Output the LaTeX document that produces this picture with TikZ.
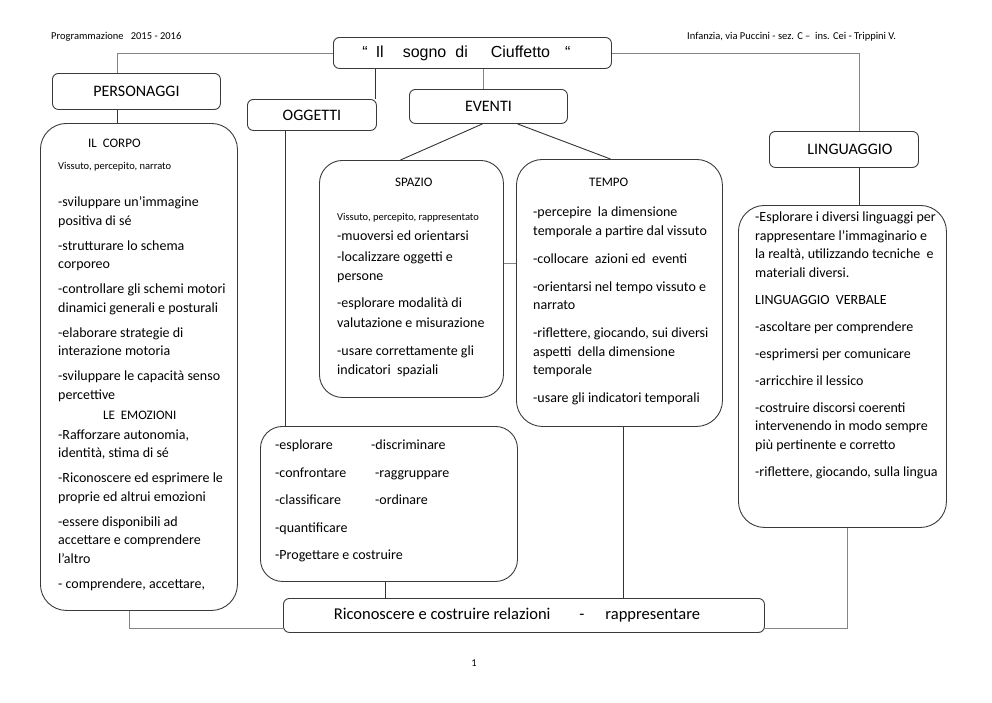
\documentclass[tikz,border=0pt]{standalone}
\usepackage{fontspec}
\setmainfont{Carlito}
\newfontfamily\arialfont{Liberation Sans}
\usetikzlibrary{positioning}

\definecolor{boxgray}{HTML}{3A3A3A}
\definecolor{linkdark}{HTML}{333333}
\definecolor{linksoft}{HTML}{858585}

\newcommand{\headfont}{\fontsize{13}{18.5}\selectfont}
\newcommand{\smallfont}{\fontsize{10.5}{12}\selectfont}

\tikzset{
  labelbox/.style={draw=boxgray, line width=0.9pt, rounded corners=6pt, inner sep=0pt, anchor=north west, font=\fontsize{16}{18}\selectfont},
  panel/.style={draw=boxgray, line width=0.9pt, rounded corners=26pt, inner sep=0pt, anchor=north west},
  body/.style={anchor=north west, inner sep=0pt, align=left, font=\fontsize{14}{18.5}\selectfont},
  link/.style={draw=linkdark, line width=0.9pt},
  softlink/.style={draw=linksoft, line width=0.9pt},
}

\begin{document}
\begin{tikzpicture}[x=1pt, y=-1pt]
    \useasboundingbox (0,0) rectangle (992,702);

    % Header
    \node[anchor=west, inner sep=0pt, font=\smallfont] (prog) at (51,37) {Programmazione\ \ \ 2015 - 2016};
    \node[anchor=west, inner sep=0pt, font=\smallfont] (school) at (687,37) {Infanzia, via Puccini - sez. C –\ \ ins. Cei - Trippini V.};
    \node[labelbox, minimum width=278, minimum height=31, font=\arialfont\fontsize{16}{18}\selectfont] (title) at (333,37)
        {“\hspace{8pt}Il\hspace{19pt}sogno\hspace{9pt}di\hspace{23pt}Ciuffetto\hspace{15pt}“\hspace*{12pt}};

    % Branches
    \node[labelbox, minimum width=168, minimum height=36] (pers) at (52,73) {PERSONAGGI};
    \node[labelbox, minimum width=129, minimum height=31] (ogg) at (247,99) {OGGETTI};
    \node[labelbox, minimum width=158, minimum height=34] (eventi) at (409,89) {EVENTI};
    \node[labelbox, minimum width=149, minimum height=36] (ling) at (769,131) {\hspace*{12pt}LINGUAGGIO};

    % Panels
    \node[panel, minimum width=197, minimum height=487] (corpo) at (40,123) {};
    \node[panel, rounded corners=23pt, minimum width=184, minimum height=237] (spazio) at (319,160) {};
    \node[panel, minimum width=206, minimum height=267] (tempo) at (516,159) {};
    \node[panel, minimum width=208, minimum height=322] (lingbody) at (738,205) {};
    \node[panel, rounded corners=22pt, minimum width=257, minimum height=155] (oggbody) at (260,426) {};
    \node[labelbox, minimum width=481, minimum height=34, font=\fontsize{16.5}{18}\selectfont] (ric) at (283,598)
        {Riconoscere e costruire relazioni\hspace{29pt}-\hspace{21pt}rappresentare\hspace*{14pt}};

    % Panel texts
    \node[body] (corpotxt) at (58,139) {%
        \hspace*{30pt}{\headfont IL~~CORPO}\\[3.5pt]
        {\smallfont Vissuto, percepito, narrato}\\[18.5pt]
        -sviluppare un’immagine\\
        positiva di sé\\[6.5pt]
        -strutturare lo schema\\
        corporeo\\[6.5pt]
        -controllare gli schemi motori\\
        dinamici generali e posturali\\[6.5pt]
        -elaborare strategie di\\
        interazione motoria\\[6.5pt]
        -sviluppare le capacità senso\\
        percettive\\[1.5pt]
        \hspace*{45pt}{\headfont LE~~EMOZIONI}\\[1.5pt]
        -Rafforzare autonomia,\\
        identità, stima di sé\\[6.5pt]
        -Riconoscere ed esprimere le\\
        proprie ed altrui emozioni\\[6.5pt]
        -essere disponibili ad\\
        accettare e comprendere\\
        l’altro\\[6.5pt]
        - comprendere, accettare,};
    \node[body, font=\fontsize{14}{19.5}\selectfont] (spaziotxt) at (337,178) {%
        \hspace*{58pt}{\headfont SPAZIO}\\[14.5pt]
        {\smallfont Vissuto, percepito, rappresentato}\\
        -muoversi ed orientarsi\\[1.5pt]
        -localizzare oggetti e\\
        persone\\[7.5pt]
        -esplorare modalità di\\
        valutazione e misurazione\\[8.5pt]
        -usare correttamente gli\\
        indicatori~ spaziali};
    \node[body] (tempotxt) at (533,178) {%
        \hspace*{56pt}{\headfont TEMPO}\\[11.5pt]
        -percepire~ la dimensione\\
        temporale a partire dal vissuto\\[9.5pt]
        -collocare~ azioni ed~ eventi\\[9.5pt]
        -orientarsi nel tempo vissuto e\\
        narrato\\[9.5pt]
        -riflettere, giocando, sui diversi\\
        aspetti~ della dimensione\\
        temporale\\[9.5pt]
        -usare gli indicatori temporali};
    \node[body] (lingtxt) at (755,212) {%
        -Esplorare i diversi linguaggi per\\
        rappresentare l’immaginario e\\
        la realtà, utilizzando tecniche~ e\\
        materiali diversi.\\[8.5pt]
        LINGUAGGIO~ VERBALE\\[8.5pt]
        -ascoltare per comprendere\\[8.5pt]
        -esprimersi per comunicare\\[8.5pt]
        -arricchire il lessico\\[8.5pt]
        -costruire discorsi coerenti\\
        intervenendo in modo sempre\\
        più pertinente e corretto\\[8.5pt]
        -riflettere, giocando, sulla lingua};
    \node[body] (oggtxt) at (275,440) {%
        -esplorare\\[9pt]
        -confrontare\\[9pt]
        -classificare\\[9pt]
        -quantificare\\[9pt]
        -Progettare e costruire};
    \node[body] (oggtxtb) at (371,440) {%
        -discriminare\\[9pt]
        \hspace*{4pt}-raggruppare\\[9pt]
        \hspace*{4pt}-ordinare};

    % Connections
    \draw[softlink] (title.west) -| ([xshift=-19]pers.north);
    \draw[link] ([xshift=-1]ogg.north east |- title.south) -- ([xshift=-1]ogg.north east);
    \draw[softlink] ([xshift=-5]eventi.north |- title.south) -- ([xshift=-5]eventi.north);
    \draw[softlink] (title.east) -| ([xshift=15.5]ling.north);
    \draw[link] ([xshift=-19]pers.south) -- ([xshift=-19]pers.south |- corpo.north);
    \draw[link] ([xshift=-6]eventi.south) -- ([xshift=-11]spazio.north);
    \draw[link] ([xshift=29]eventi.south) -- ([xshift=-9]tempo.north);
    \draw[softlink] ([yshift=15.5]spazio.east) -- ([yshift=15.5]spazio.east -| tempo.west);
    \draw[link] ([xshift=-26.5]ogg.south) -- ([xshift=-26.5]ogg.south |- oggbody.north);
    \draw[link] ([xshift=15.5]ling.south) -- ([xshift=15.5]ling.south |- lingbody.north);
    \draw[link] ([xshift=-3.5]oggbody.south) -- ([xshift=-3.5]oggbody.south |- ric.north);
    \draw[link] ([xshift=4]tempo.south) -- ([xshift=4]tempo.south |- ric.north);
    \draw[softlink] ([xshift=-9.5]corpo.south) |- ([yshift=-13]ric.west);
    \draw[softlink] ([xshift=5]lingbody.south) |- ([yshift=-13]ric.east);

    % Page number
    \node[font=\smallfont] (pagenum) at (474,663) {1};
\end{tikzpicture}
\end{document}
